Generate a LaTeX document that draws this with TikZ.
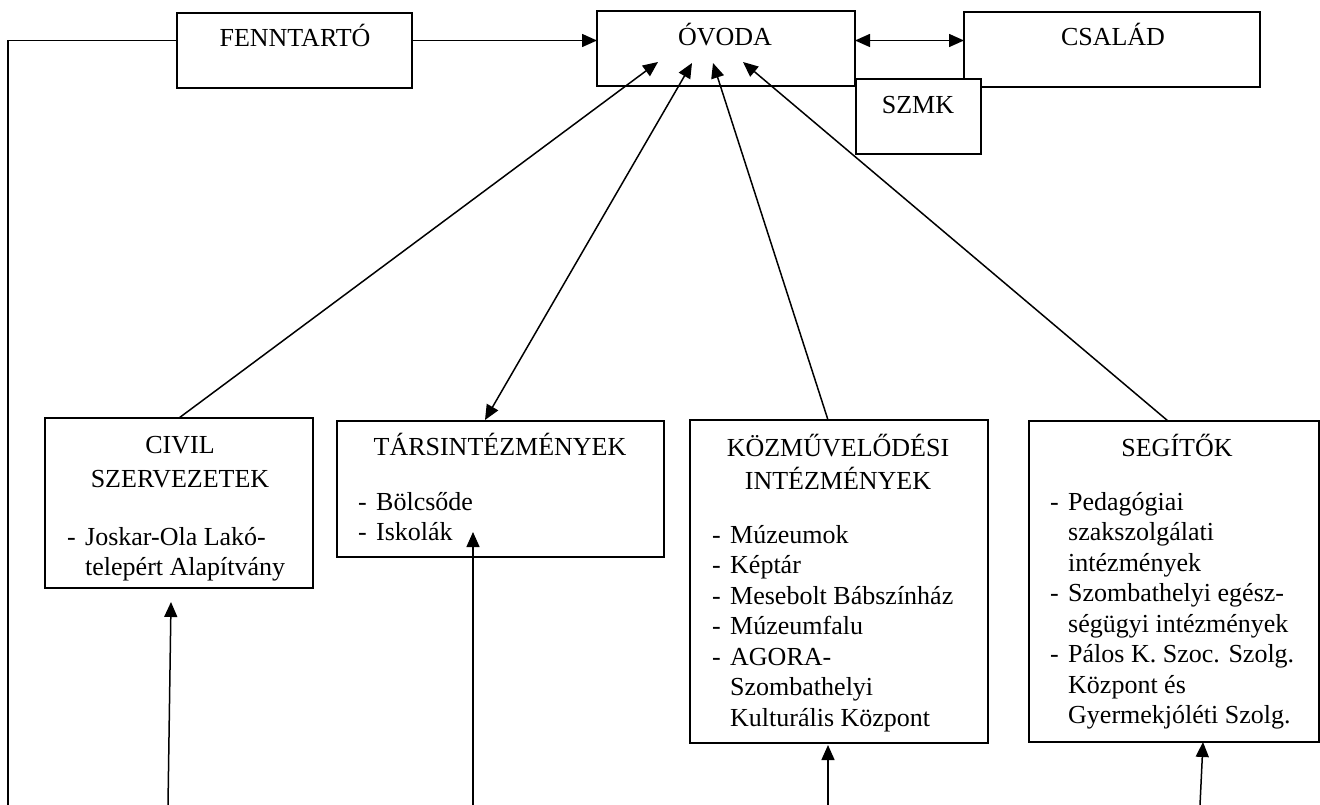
\documentclass[tikz,border=0pt]{standalone}
\usepackage{fontspec}
\setmainfont{Liberation Serif}
\usetikzlibrary{arrows.meta}

\tikzset{
  box/.style={draw, line width=1.8pt, inner sep=0pt, outer sep=0pt, anchor=north west, fill=white},
  txt/.style={inner sep=0pt, anchor=base, font=\fontsize{26}{30.5}\selectfont},
  lst/.style={txt, anchor=base west},
  plain/.style={line width=1.5pt},
  conn/.style={plain, -{Triangle[length=15pt,width=13pt]}},
  both/.style={plain, {Triangle[length=15pt,width=13pt]}-{Triangle[length=15pt,width=13pt]}},
}
\newcommand{\lidash}{\makebox[18pt][l]{-}}

\begin{document}
\begin{tikzpicture}[x=1pt,y=1pt]
  \useasboundingbox (0,0) rectangle (1320,-805);
  % top row
  \node[box, minimum width=235pt, minimum height=75pt] (fenn) at (177,-13) {};
  \node[box, minimum width=258pt, minimum height=75pt] (ovoda) at (597,-11) {};
  \node[box, minimum width=296pt, minimum height=75pt] (csalad) at (964,-12) {};
  \node[box, minimum width=125pt, minimum height=75pt] (szmk) at (856,-79) {};
  \node[txt] (fennT) at (295,-47) {FENNTARTÓ};
  \node[txt] (ovodaT) at (725,-46) {ÓVODA};
  \node[txt] (csaladT) at (1113,-46) {CSALÁD};
  \node[txt] (szmkT) at (918,-114) {SZMK};
  % bottom row
  \node[box, minimum width=268pt, minimum height=170pt] (civil) at (45,-418) {};
  \node[box, minimum width=327pt, minimum height=136pt] (tars) at (337,-421) {};
  \node[box, minimum width=298pt, minimum height=323pt] (kozm) at (690,-420) {};
  \node[box, minimum width=290pt, minimum height=321pt] (segit) at (1029,-421) {};
  \node[txt] (civilT) at (180,-453) {\begin{tabular}[t]{@{}c@{}}CIVIL\\[3.5pt] SZERVEZETEK\end{tabular}};
  \node[lst] (civilL) at (67,-545) {\begin{tabular}[t]{@{}l@{}l@{}}
    \lidash & Joskar-Ola Lakó-\\
    & telepért Alapítvány\end{tabular}};
  \node[txt] (tarsT) at (500,-455) {TÁRSINTÉZMÉNYEK};
  \node[lst] (tarsL) at (358,-510) {\begin{tabular}[t]{@{}l@{}l@{}}
    \lidash & Bölcsőde\\
    \lidash & Iskolák\end{tabular}};
  \node[txt] (kozmT) at (838,-456) {\begin{tabular}[t]{@{}c@{}}KÖZMŰVELŐDÉSI\\[2.5pt] INTÉZMÉNYEK\end{tabular}};
  \node[lst] (kozmL) at (712,-543) {\begin{tabular}[t]{@{}l@{}l@{}}
    \lidash & Múzeumok\\
    \lidash & Képtár\\
    \lidash & Mesebolt Bábszínház\\
    \lidash & Múzeumfalu\\
    \lidash & AGORA-\\
    & Szombathelyi\\
    & Kulturális Központ\end{tabular}};
  \node[txt] (segitT) at (1177,-456) {SEGÍTŐK};
  \node[lst] (segitL) at (1050,-510) {\begin{tabular}[t]{@{}l@{}l@{}}
    \lidash & Pedagógiai\\
    & szakszolgálati\\
    & intézmények\\
    \lidash & Szombathelyi egész-\\
    & ségügyi intézmények\\
    \lidash & Pálos K. Szoc. Szolg.\\
    & Központ és\\
    & Gyermekjóléti Szolg.\end{tabular}};
  % helper points
  \coordinate (midrow) at (0,-40.5);
  \coordinate (leftcorner) at (8,-40.5);
  \coordinate (botedge) at (0,-805);
  \coordinate (tipA) at (658,-62);
  \coordinate (tipB) at (692,-63);
  \coordinate (tipC) at (713,-63);
  \coordinate (tipD) at (743,-62);
  \coordinate (tarsTop) at (485,-420);
  \coordinate (kozmTop) at (828,-420);
  \coordinate (segitTop) at (1168,-421);
  \coordinate (civilIn) at (171,-602);
  \coordinate (tarsIn) at (473,-532);
  \coordinate (kozmIn) at (828,-745);
  \coordinate (segitIn) at (1203,-742);
  % top connectors
  \draw[plain] (fenn.west |- midrow) -- (leftcorner) -- (leftcorner |- botedge);
  \draw[conn] (fenn.east |- midrow) -- (ovoda.west |- midrow);
  \draw[both] (ovoda.east |- midrow) -- (csalad.west |- midrow);
  % into ovoda
  \draw[conn] (civil.north) -- (tipA);
  \draw[both] (tarsTop) -- (tipB);
  \draw[conn] (kozmTop) -- (tipC);
  \draw[conn] (segitTop) -- (tipD);
  % from below
  \draw[conn] (168,-805) -- (civilIn);
  \draw[conn] (tarsIn |- botedge) -- (tarsIn);
  \draw[conn] (kozmIn |- botedge) -- (kozmIn);
  \draw[conn] (1200,-805) -- (segitIn);
\end{tikzpicture}
\end{document}
